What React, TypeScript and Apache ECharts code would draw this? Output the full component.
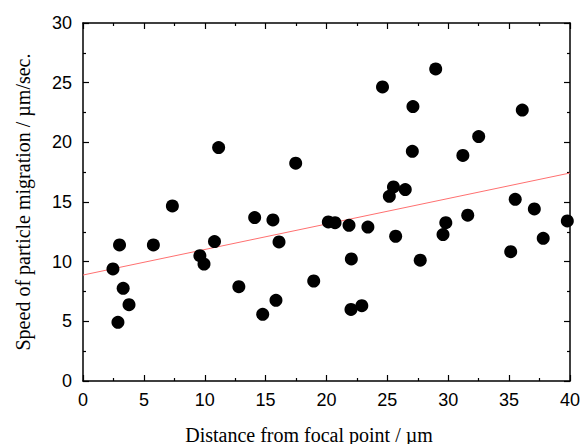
import React, { useEffect, useRef } from "react";
import * as echarts from "echarts";

const distance = [
  2.46, 3.0, 3.3, 3.78, 2.87, 5.78, 7.34, 9.6, 9.94, 10.8, 11.14, 12.8, 14.1, 14.76,
  15.6, 15.85, 16.1, 17.47, 18.95, 20.15, 20.7, 21.85, 22.04, 22.01, 22.9, 23.4,
  24.6, 25.16, 25.5, 25.68, 26.47, 27.05, 27.1, 27.7, 28.97, 29.57, 29.8, 31.2,
  31.6, 32.5, 35.13, 35.5, 36.08, 37.07, 37.8, 39.78,
];
const speed = [
  9.39, 11.4, 7.77, 6.4, 4.92, 11.4, 14.67, 10.5, 9.8, 11.68, 19.56, 7.9, 13.7, 5.59,
  13.5, 6.76, 11.65, 18.25, 8.38, 13.33, 13.27, 13.05, 10.23, 6.0, 6.31, 12.9,
  24.64, 15.48, 16.26, 12.13, 16.04, 19.25, 23.0, 10.12, 26.15, 12.27, 13.27, 18.9,
  13.9, 20.48, 10.84, 15.23, 22.7, 14.42, 11.96, 13.41,
];
const fitX = [0, 40];
const fitY = [8.88, 17.43];
const xTicks = { min: 0, max: 40, interval: 5 };
const yTicks = { min: 0, max: 30, interval: 5 };

export default function App() {
  const ref = useRef<HTMLDivElement>(null);
  useEffect(() => {
    if (!ref.current) return;
    const chart = echarts.init(ref.current, null, { renderer: "svg" });
    const axisCommon = {
      axisLine: { show: true, onZero: false, lineStyle: { color: "#000", width: 1.5 } },
      axisTick: { show: true, inside: true, length: 6, lineStyle: { color: "#000", width: 1.2 } },
      minorTick: { show: true, splitNumber: 2, length: 3, lineStyle: { color: "#000", width: 1.2 } },
      splitLine: { show: false },
      minorSplitLine: { show: false },
    };
    const labelStyle = {
      fontFamily: "Liberation Sans, Arial, sans-serif",
      fontSize: 18,
      color: "#000",
    };
    const nameStyle = {
      fontFamily: "Liberation Serif, Times New Roman, serif",
      fontSize: 20,
      color: "#000",
    };
    chart.setOption({
      animation: false,
      grid: {
        left: 83,
        top: 23,
        right: 11,
        bottom: 63,
        containLabel: false,
        outerBoundsMode: "none",
      },
      xAxis: [
        {
          type: "value",
          ...xTicks,
          ...axisCommon,
          position: "bottom",
          axisLabel: { ...labelStyle, margin: 10 },
          name: "Distance from focal point / µm",
          nameLocation: "middle",
          nameGap: 44,
          nameTextStyle: { ...nameStyle, padding: [0, 35, 0, 0] },
        },
        {
          type: "value",
          ...xTicks,
          ...axisCommon,
          position: "top",
          axisLabel: { show: false },
        },
      ],
      yAxis: [
        {
          type: "value",
          ...yTicks,
          ...axisCommon,
          position: "left",
          axisLabel: { ...labelStyle, margin: 11 },
          name: "Speed of particle migration / µm/sec.",
          nameLocation: "middle",
          nameGap: 50,
          nameTextStyle: nameStyle,
        },
        {
          type: "value",
          ...yTicks,
          ...axisCommon,
          position: "right",
          axisLabel: { show: false },
        },
      ],
      series: [
        {
          type: "line",
          data: fitX.map((x, i) => [x, fitY[i]]),
          showSymbol: false,
          symbol: "none",
          lineStyle: { color: "#ff7070", width: 1 },
          silent: true,
          z: 1,
        },
        {
          type: "scatter",
          data: distance.map((x, i) => [x, speed[i]]),
          symbol: "circle",
          symbolSize: 13,
          itemStyle: { color: "#000", opacity: 1 },
          clip: false,
          z: 2,
        },
      ],
    });
    return () => chart.dispose();
  }, []);
  return (
    <div
      ref={ref}
      style={{ position: "fixed", left: 0, top: 0, width: 581, height: 444, background: "#fff" }}
    />
  );
}
